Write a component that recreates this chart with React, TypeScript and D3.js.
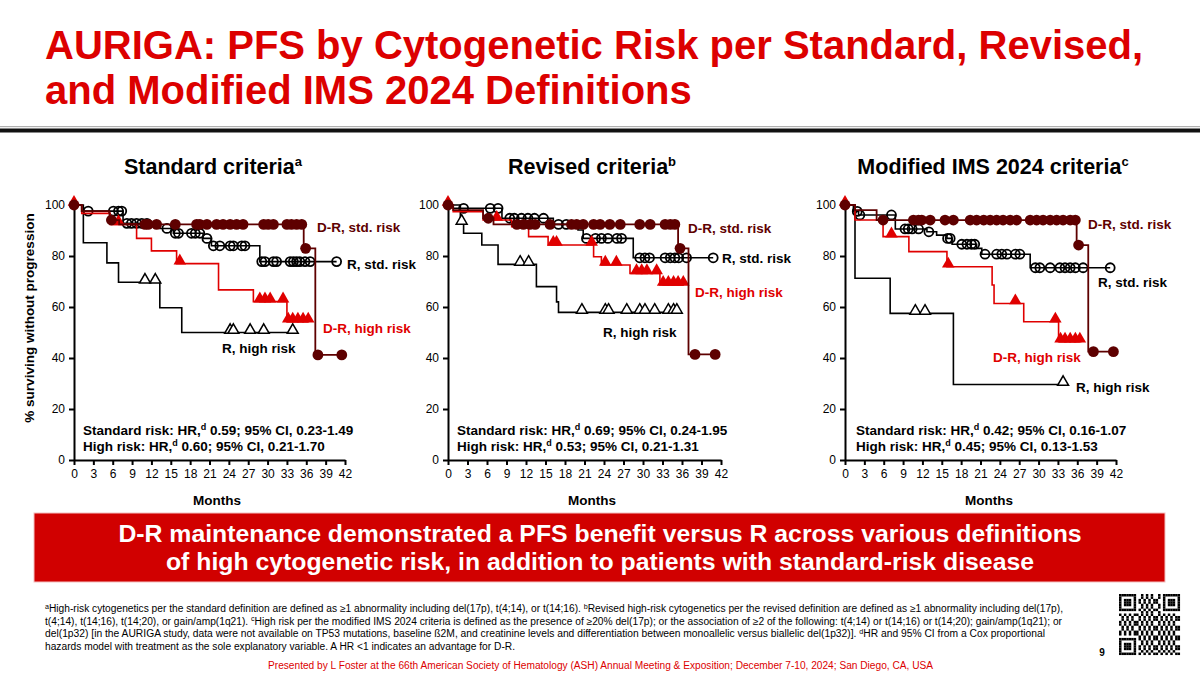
import React, { useRef, useEffect } from "react";
import * as d3 from "d3";

const FONT = "'Liberation Sans', Arial, Helvetica, sans-serif";
const MAROON = "#5e0000";
const RED = "#e00000";
const TITLE_RED = "#dc0000";

type Step = [number, number];

// axis ticks
const monthTicks = [0, 3, 6, 9, 12, 15, 18, 21, 24, 27, 30, 33, 36, 39, 42];
const pctTicks = [0, 20, 40, 60, 80, 100];

// ---- Standard criteria ----
const stdDrStd: Step[] = [[0, 100], [1.2, 97.6], [5.5, 94.1], [7.0, 92.4], [35.6, 83.0], [37.4, 41.2], [41.5, 41.2]];
const stdDrStdCens = [0, 5.8, 11.0, 11.5, 12.8, 15.7, 19.0, 19.5, 20.6, 22.1, 23.1, 24.2, 25.2, 26.2, 29.4, 30.1, 30.9, 33.0, 33.7, 34.5, 35.3, 35.9, 37.8, 41.5];
const stdRStd: Step[] = [[0, 100], [1.2, 97.6], [7.6, 92.8], [13.3, 90.8], [15.4, 88.9], [20.0, 86.9], [21.3, 84.0], [28.8, 77.8], [40.7, 77.8]];
const stdRStdCens = [2.2, 6.1, 6.9, 7.4, 8.2, 8.9, 9.7, 10.5, 11.3, 14.4, 15.7, 16.2, 18.2, 18.8, 19.5, 20.6, 21.6, 22.6, 24.2, 24.7, 26.0, 26.5, 29.1, 29.6, 30.9, 31.4, 33.5, 34.0, 34.5, 35.0, 35.8, 36.6, 40.7];
const stdDrHigh: Step[] = [[0, 100], [1.2, 96.7], [5.6, 92.4], [9.7, 86.9], [12.0, 82.0], [15.9, 77.0], [22.4, 66.7], [27.8, 62.1], [33.0, 54.2], [36.3, 54.2]];
const stdDrHighCens = [0, 6.9, 16.4, 28.8, 29.6, 30.4, 32.4, 33.2, 33.9, 34.7, 35.5, 36.3];
const stdRHigh: Step[] = [[0, 100], [1.45, 85.2], [5.1, 77.3], [6.9, 69.7], [13.3, 59.7], [16.7, 50.0], [34.0, 50.0]];
const stdRHighCens = [11.0, 12.6, 24.2, 24.7, 27.3, 29.4, 33.9];

// ---- Revised criteria ----
const revDrStd: Step[] = [[0, 100], [0.8, 98.0], [5.4, 94.8], [7.0, 92.4], [35.4, 83.0], [37.0, 41.4], [41.1, 41.4]];
const revDrStdCens = [0, 6.2, 10.6, 11.6, 12.6, 13.4, 15.7, 19.0, 19.8, 20.8, 22.4, 23.4, 24.9, 26.5, 29.5, 31.1, 33.4, 34.2, 34.9, 35.7, 38.0, 41.1];
const revRStd: Step[] = [[0, 100], [0.8, 98.7], [8.3, 94.8], [16.2, 92.4], [20.0, 90.2], [20.8, 86.9], [28.5, 79.3], [40.8, 79.3]];
const revRStdCens = [2.4, 6.5, 7.7, 9.5, 10.2, 11.3, 12.3, 13.3, 14.7, 17.0, 18.2, 21.3, 22.7, 23.6, 24.6, 26.0, 26.7, 29.5, 30.3, 31.0, 33.4, 34.2, 34.9, 35.5, 36.7, 40.8];
const revDrHigh: Step[] = [[0, 100], [0.8, 97.4], [5.4, 94.1], [9.8, 91.5], [12.4, 87.6], [15.4, 84.3], [22.4, 79.7], [23.6, 76.5], [28.0, 73.2], [32.6, 68.6], [36.2, 68.6]];
const revDrHighCens = [0, 7.5, 16.2, 16.7, 22.1, 24.2, 25.9, 29.0, 29.8, 30.6, 32.1, 33.1, 33.9, 34.7, 35.4, 36.2];
const revRHigh: Step[] = [[0, 100], [1.9, 92.8], [2.4, 88.9], [5.2, 84.3], [7.7, 76.7], [13.6, 68.0], [16.7, 62.0], [17.0, 57.9], [35.7, 57.9]];
const revRHighCens = [2.1, 11.1, 12.4, 20.6, 24.2, 24.7, 27.5, 29.5, 30.3, 31.8, 33.9, 34.7, 35.2];

// ---- Modified IMS 2024 criteria ----
const imsDrStd: Step[] = [[0, 100], [1.55, 98.0], [4.9, 94.1], [35.9, 84.3], [37.7, 42.5], [41.6, 42.5]];
const imsDrStdCens = [0, 5.9, 10.6, 11.4, 11.9, 13.2, 15.5, 16.8, 19.4, 20.4, 21.5, 22.5, 23.5, 24.5, 25.6, 26.6, 28.7, 29.7, 30.7, 31.8, 32.8, 33.8, 34.9, 35.7, 36.2, 38.5, 41.6];
const imsRStd: Step[] = [[0, 100], [1.3, 97.5], [2.1, 96.1], [7.8, 90.6], [12.7, 89.5], [14.2, 88.2], [15.8, 86.9], [16.6, 84.6], [20.4, 83.0], [21.2, 80.7], [28.7, 75.4], [41.1, 75.4]];
const imsRStdCens = [1.9, 2.3, 7.2, 9.3, 9.8, 10.4, 11.4, 13.0, 15.9, 16.3, 18.1, 18.9, 19.6, 20.1, 21.7, 23.5, 24.3, 25.1, 26.4, 27.1, 29.5, 30.2, 31.8, 33.3, 34.1, 34.9, 35.7, 36.9, 41.1];
const imsDrHigh: Step[] = [[0, 100], [1.55, 94.1], [5.9, 87.6], [9.9, 81.7], [15.8, 75.8], [22.8, 68.6], [23.1, 61.4], [27.7, 54.2], [33.1, 46.4], [36.4, 46.4]];
const imsDrHighCens = [0, 7.2, 16.0, 26.4, 32.6, 33.4, 34.1, 34.9, 35.7, 36.4];
const imsRHigh: Step[] = [[0, 100], [1.55, 71.3], [7.0, 57.5], [16.8, 29.6], [33.8, 29.6]];
const imsRHighCens = [10.9, 12.4, 33.8];

// hazard ratios shown under each plot
const hrStd = ["0.59", "0.69", "0.42"];
const ciStd = ["0.23-1.49", "0.24-1.95", "0.16-1.07"];
const hrHigh = ["0.60", "0.53", "0.45"];
const ciHigh = ["0.21-1.70", "0.21-1.31", "0.13-1.53"];

const seriesNames = ["R, high risk", "R, std. risk", "D-R, high risk", "D-R, std. risk"];

type Marker = "circleOpen" | "circleFilled" | "triOpen" | "triFilled";
interface Curve { steps: Step[]; cens: number[]; color: string; marker: Marker; width: number }
interface Panel {
  title: string; sup: string; titleX: number; left: number; right: number; monthsX: number; hrX: number;
  curves: Curve[]; labelPos: [number, number][];
}

const mk = (rH: [Step[], number[]], rS: [Step[], number[]], dH: [Step[], number[]], dS: [Step[], number[]]): Curve[] => [
  { steps: rH[0], cens: rH[1], color: "#000", marker: "triOpen", width: 1.6 },
  { steps: rS[0], cens: rS[1], color: "#000", marker: "circleOpen", width: 1.6 },
  { steps: dH[0], cens: dH[1], color: RED, marker: "triFilled", width: 1.6 },
  { steps: dS[0], cens: dS[1], color: MAROON, marker: "circleFilled", width: 1.8 },
];

const panels: Panel[] = [
  {
    title: "Standard criteria", sup: "a", titleX: 213, left: 74, right: 345, monthsX: 217, hrX: 83,
    curves: mk([stdRHigh, stdRHighCens], [stdRStd, stdRStdCens], [stdDrHigh, stdDrHighCens], [stdDrStd, stdDrStdCens]),
    labelPos: [[222, 353], [347, 268.5], [323, 332.5], [317, 231.5]],
  },
  {
    title: "Revised criteria", sup: "b", titleX: 592, left: 448, right: 721, monthsX: 592, hrX: 457,
    curves: mk([revRHigh, revRHighCens], [revRStd, revRStdCens], [revDrHigh, revDrHighCens], [revDrStd, revDrStdCens]),
    labelPos: [[603, 336.5], [722, 262.5], [695, 296.5], [688, 232.5]],
  },
  {
    title: "Modified IMS 2024 criteria", sup: "c", titleX: 993, left: 845, right: 1116, monthsX: 989, hrX: 856,
    curves: mk([imsRHigh, imsRHighCens], [imsRStd, imsRStdCens], [imsDrHigh, imsDrHighCens], [imsDrStd, imsDrStdCens]),
    labelPos: [[1076, 391.5], [1098, 286.5], [993, 361.5], [1088, 228.5]],
  },
];

const Y_TOP = 205;
const Y_BOTTOM = 460;

const survivalAt = (steps: Step[], t: number) => {
  let s = steps[0][1];
  for (const [m, v] of steps) if (m <= t + 1e-9) s = v;
  return s;
};

const KMPanel = ({ panel, idx }: { panel: Panel; idx: number }) => {
  const ref = useRef<SVGGElement>(null);

  useEffect(() => {
    const g = d3.select(ref.current);
    g.selectAll("*").remove();

    const x = d3.scaleLinear().domain([0, 42]).range([panel.left, panel.right]);
    const y = d3.scaleLinear().domain([0, 100]).range([Y_BOTTOM, Y_TOP]);

    const styleAxis = (a: d3.Selection<SVGGElement, unknown, null, undefined>) => {
      a.select(".domain").attr("stroke", "#000").attr("stroke-width", 2);
      a.selectAll(".tick line").attr("stroke", "#000").attr("stroke-width", 2);
      a.selectAll(".tick text").attr("fill", "#000").style("font-family", FONT).style("font-size", "12px");
    };

    g.append("g")
      .attr("transform", `translate(${panel.left},0)`)
      .call(d3.axisLeft(y).tickValues(pctTicks).tickSize(5).tickPadding(4).tickSizeOuter(0))
      .call(styleAxis);

    g.append("g")
      .attr("transform", `translate(0,${Y_BOTTOM})`)
      .call(d3.axisBottom(x).tickValues(monthTicks).tickSize(5).tickPadding(4).tickSizeOuter(0))
      .call(styleAxis);

    const line = d3.line<Step>().x((d) => x(d[0])).y((d) => y(d[1])).curve(d3.curveStepAfter);

    panel.curves.forEach((c) => {
      g.append("path")
        .datum(c.steps)
        .attr("fill", "none")
        .attr("stroke", c.color)
        .attr("stroke-width", c.width)
        .attr("d", line);

      const pts = c.cens.map((t) => [x(t), y(survivalAt(c.steps, t))]);
      if (c.marker === "circleFilled" || c.marker === "circleOpen") {
        const open = c.marker === "circleOpen";
        g.append("g").selectAll("circle").data(pts).join("circle")
          .attr("cx", (d) => d[0]).attr("cy", (d) => d[1])
          .attr("r", open ? 4.5 : 5.4)
          .attr("fill", open ? "none" : c.color)
          .attr("stroke", open ? "#000" : "none")
          .attr("stroke-width", 1.8);
      } else {
        const open = c.marker === "triOpen";
        const size = open ? 52 : 68;
        const half = Math.sqrt(size / (3 * Math.sqrt(3)));
        g.append("g").selectAll("path").data(pts).join("path")
          .attr("d", d3.symbol(d3.symbolTriangle, size)())
          .attr("transform", (d) => `translate(${d[0]},${d[1] - half + 0.8})`)
          .attr("fill", open ? "#fff" : c.color)
          .attr("stroke", open ? "#000" : "none")
          .attr("stroke-width", 1.5);
      }
    });

    // series labels
    const labelColors = ["#000", "#000", RED, MAROON];
    panel.labelPos.forEach(([lx, ly], i) => {
      g.append("text")
        .attr("x", lx).attr("y", ly)
        .attr("fill", labelColors[i])
        .style("font-family", FONT).style("font-size", "13.5px").style("font-weight", "bold")
        .text(seriesNames[i]);
    });

    // HR annotations
    const hrRows = [
      ["Standard risk: HR,", hrStd[idx], ciStd[idx]],
      ["High risk: HR,", hrHigh[idx], ciHigh[idx]],
    ];
    hrRows.forEach((r, i) => {
      const t = g.append("text")
        .attr("x", panel.hrX).attr("y", 434.5 + i * 16.8)
        .attr("fill", "#000")
        .style("font-family", FONT).style("font-size", "13.5px").style("font-weight", "bold");
      t.append("tspan").text(r[0]);
      t.append("tspan").attr("dy", -5).style("font-size", "9px").text("d");
      t.append("tspan").attr("dy", 5).text(` ${r[1]}; 95% CI, ${r[2]}`);
    });

    g.append("text")
      .attr("x", panel.monthsX).attr("y", 504.5)
      .attr("text-anchor", "middle")
      .style("font-family", FONT).style("font-size", "13.5px").style("font-weight", "bold")
      .text("Months");

    const title = g.append("text")
      .attr("x", panel.titleX).attr("y", 173.5)
      .attr("text-anchor", "middle")
      .style("font-family", FONT).style("font-size", "21.5px").style("font-weight", "bold");
    title.append("tspan").text(panel.title);
    title.append("tspan").attr("dy", -8).style("font-size", "13px").text(panel.sup);
  }, [panel, idx]);

  return <g ref={ref} />;
};

// footnotes: [text, superscript?]
const footnotes: [string, boolean][][] = [
  [["a", true], ["High-risk cytogenetics per the standard definition are defined as ≥1 abnormality including del(17p), t(4;14), or t(14;16). ", false], ["b", true], ["Revised high-risk cytogenetics per the revised definition are defined as ≥1 abnormality including del(17p),", false]],
  [["t(4;14), t(14;16), t(14;20), or gain/amp(1q21). ", false], ["c", true], ["High risk per the modified IMS 2024 criteria is defined as the presence of ≥20% del(17p); or the association of ≥2 of the following: t(4;14) or t(14;16) or t(14;20); gain/amp(1q21); or", false]],
  [["del(1p32) [in the AURIGA study, data were not available on TP53 mutations, baseline ß2M, and creatinine levels and differentiation between monoallelic versus biallelic del(1p32)]. ", false], ["d", true], ["HR and 95% CI from a Cox proportional", false]],
  [["hazards model with treatment as the sole explanatory variable. A HR <1 indicates an advantage for D-R.", false]],
];
const footnoteWidths = [1018, 1017, 1000, 470];

// QR code modules
const QR_N = 25;
const qrOn = (r: number, c: number) => {
  const finders = [[0, 0], [0, QR_N - 7], [QR_N - 7, 0]];
  for (const [r0, c0] of finders) {
    if (r >= r0 - 1 && r <= r0 + 7 && c >= c0 - 1 && c <= c0 + 7) {
      const dr = r - r0, dc = c - c0;
      if (dr < 0 || dr > 6 || dc < 0 || dc > 6) return false;
      const ring = Math.max(Math.abs(dr - 3), Math.abs(dc - 3));
      return ring !== 2;
    }
  }
  const h = Math.imul(r * 31 + 7, 0x9e3779b1) ^ Math.imul(c * 17 + 3, 0x85ebca6b);
  return ((h >>> 13) & 7) < 4;
};

const App = () => {
  const qrCells: [number, number][] = [];
  for (let r = 0; r < QR_N; r++) for (let c = 0; c < QR_N; c++) if (qrOn(r, c)) qrCells.push([r, c]);
  const qrSize = 61 / QR_N;

  return (
    <svg width={1200} height={675} style={{ position: "absolute", left: 0, top: 0, background: "#fff" }}>
      <rect width={1200} height={675} fill="#fff" />
      <text x={45} y={59} fill={TITLE_RED} style={{ fontFamily: FONT, fontSize: "40px", fontWeight: "bold" }}>
        AURIGA: PFS by Cytogenetic Risk per Standard, Revised,
      </text>
      <text x={45} y={104} fill={TITLE_RED} style={{ fontFamily: FONT, fontSize: "40px", fontWeight: "bold" }}>
        and Modified IMS 2024 Definitions
      </text>
      <rect x={0} y={126} width={1200} height={1.2} fill="#b0b0b0" />
      <rect x={0} y={128.5} width={1200} height={4} fill="#111" />

      <text
        transform="translate(34,318) rotate(-90)"
        textAnchor="middle"
        style={{ fontFamily: FONT, fontSize: "13.5px", fontWeight: "bold" }}
      >
        % surviving without progression
      </text>

      {panels.map((p, i) => (
        <KMPanel key={p.title} panel={p} idx={i} />
      ))}

      <rect x={34} y={513} width={1131} height={69} fill="#d10000" stroke="#f3c0c0" strokeWidth={1} />
      <text x={600} y={542} textAnchor="middle" fill="#fff" style={{ fontFamily: FONT, fontSize: "24.8px", fontWeight: "bold" }}>
        D-R maintenance demonstrated a PFS benefit versus R across various definitions
      </text>
      <text x={600} y={570} textAnchor="middle" fill="#fff" style={{ fontFamily: FONT, fontSize: "24.8px", fontWeight: "bold" }}>
        of high cytogenetic risk, in addition to patients with standard-risk disease
      </text>

      {footnotes.map((line, i) => (
        <text
          key={i}
          x={45}
          y={612 + i * 12.7}
          textLength={footnoteWidths[i]}
          lengthAdjust="spacingAndGlyphs"
          fill="#000"
          style={{ fontFamily: FONT, fontSize: "10px" }}
        >
          {line.map(([t, sup], j) =>
            sup ? (
              <tspan key={j} dy={-3.5} style={{ fontSize: "7px" }}>{t}</tspan>
            ) : (
              <tspan key={j} dy={j > 0 && line[j - 1][1] ? 3.5 : 0}>{t}</tspan>
            )
          )}
        </text>
      ))}
      <text x={268} y={668.5} textLength={665} lengthAdjust="spacingAndGlyphs" fill={TITLE_RED} style={{ fontFamily: FONT, fontSize: "10px" }}>
        Presented by L Foster at the 66th American Society of Hematology (ASH) Annual Meeting &amp; Exposition; December 7-10, 2024; San Diego, CA, USA
      </text>

      <text x={1102} y={656} textAnchor="middle" style={{ fontFamily: FONT, fontSize: "10px", fontWeight: "bold" }}>9</text>
      <g transform="translate(1119,594)">
        {qrCells.map(([r, c]) => (
          <rect key={`${r}-${c}`} x={c * qrSize} y={r * qrSize} width={qrSize + 0.05} height={qrSize + 0.05} fill="#000" />
        ))}
      </g>
    </svg>
  );
};

export default App;
